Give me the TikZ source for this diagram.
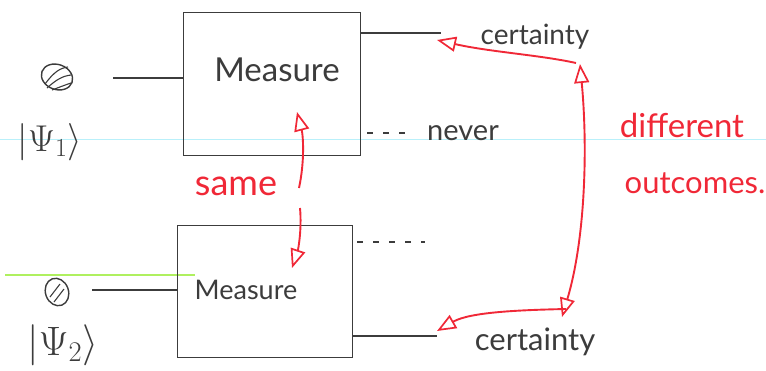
\documentclass[tikz,border=0pt]{standalone}
\usepackage{fontspec}
\setmainfont{Lato}
\usetikzlibrary{arrows.meta,shapes.geometric}
\definecolor{pen}{RGB}{60,60,60}
\definecolor{redpen}{RGB}{240,40,55}
\definecolor{scancyan}{RGB}{185,240,250}
\definecolor{scangreen}{RGB}{175,240,95}
\tikzset{
  ink/.style={draw=pen, line width=1.4pt},
  redink/.style={draw=redpen, line width=1.9pt},
  rtip/.style={-{Triangle[open,length=19pt,width=15pt,line width=1.7pt]}},
  rtips/.style={{Triangle[open,length=19pt,width=15pt,line width=1.7pt]}-{Triangle[open,length=19pt,width=15pt,line width=1.7pt]}},
  lbl/.style={text=pen, inner sep=0pt, font=\fontsize{24}{28}\selectfont},
  rlbl/.style={text=redpen, inner sep=0pt, font=\fontsize{24}{28}\selectfont},
  qubit/.style={ink, ellipse, inner sep=0pt},
  boxed/.style={ink, rectangle, anchor=north west, inner sep=0pt},
  dashline/.style={ink, dash pattern=on 6pt off 10pt},
}
\begin{document}
\begin{tikzpicture}[x=1pt,y=-1pt]
\useasboundingbox (0,0) rectangle (766,370);
% scan artefacts
\draw[scancyan, line width=1pt] (0,139) -- (766,139);
\draw[scangreen, line width=1.5pt] (5,275) -- (195,275);

% boxes
\node[boxed, minimum width=177pt, minimum height=143pt] (box1) at (183,12) {};
\node[boxed, minimum width=175pt, minimum height=132pt] (box2) at (177,225) {};
\node[lbl, font=\fontsize{33}{38}\selectfont] (m1) at (277,70) {Measure};
\node[lbl, font=\fontsize{27}{32}\selectfont] (m2) at (246,290) {Measure};

% inputs
\node[qubit, minimum width=32pt, minimum height=25pt, rotate=-20] (q1) at (57,77) {};
\draw[ink, line width=1.1pt] (45,84) .. controls (54,72) and (60,68) .. (68,67);
\draw[ink, line width=1.1pt] (47,88) .. controls (57,79) and (63,76) .. (71,75);
\draw[ink, line width=1.1pt] (52,90) .. controls (60,87) and (65,85) .. (71,83);
\node[qubit, minimum width=23pt, minimum height=28pt, rotate=20] (q2) at (57,292) {};
\draw[ink, line width=1.1pt] (50,297) -- (60,284);
\draw[ink, line width=1.1pt] (54,302) -- (64,289);
\coordinate (in1) at (113,78);
\coordinate (in2) at (92,290);
\draw[ink] (in1) -- (box1.west |- in1);
\draw[ink] (in2) -- (box2.west |- in2);
\node[lbl] (k1) at (50,142) {\scalebox{1.5}{$|\Psi_1\rangle$}};
\node[lbl] (k2) at (63,345) {\scalebox{1.65}{$|\Psi_2\rangle$}};

% outputs
\coordinate (o1) at (441,33);
\coordinate (n1) at (412,133);
\coordinate (n2) at (425,242);
\coordinate (o2) at (437,336);
\draw[ink] (box1.east |- o1) -- (o1);
\draw[dashline] (box1.east |- n1) ++(6,0) -- (n1);
\draw[dashline] (box2.east |- n2) ++(4,0) -- (n2);
\draw[ink] (box2.east |- o2) -- (o2);
\node[lbl, font=\fontsize{28}{32}\selectfont] (c1) at (535,37) {certainty};
\node[lbl, font=\fontsize{29}{33}\selectfont] (nv) at (463,133) {never};
\node[lbl, font=\fontsize{31}{36}\selectfont] (c2) at (535,342) {certainty};

% red annotations
\node[rlbl, font=\fontsize{36}{40}\selectfont] (same) at (236,186) {same};
\coordinate (s1) at (299,188);
\coordinate (s1t) at (297,112);
\coordinate (s2) at (300,208);
\coordinate (s2t) at (292,268);
\draw[redink, rtip] (s1) .. controls (305,160) and (303,135) .. (s1t);
\draw[redink, rtip] (s2) .. controls (302,230) and (298,250) .. (s2t);

\coordinate (a1) at (437,40);
\coordinate (b1) at (576,63);
\coordinate (b1t) at (580,64);
\coordinate (b2t) at (562,317);
\coordinate (b2) at (566,309);
\coordinate (a2) at (437,331);
\draw[redink, rtip] (b1) .. controls (540,55) and (490,52) .. (a1);
\draw[redink, rtips] (b1t) .. controls (588,150) and (585,240) .. (b2t);
\draw[redink, rtip] (b2) .. controls (520,310) and (470,312) .. (a2);
\node[rlbl, font=\fontsize{33}{38}\selectfont] (d1) at (682,125) {different};
\node[rlbl, font=\fontsize{31}{36}\selectfont] (d2) at (695,183) {outcomes.};
\end{tikzpicture}
\end{document}
